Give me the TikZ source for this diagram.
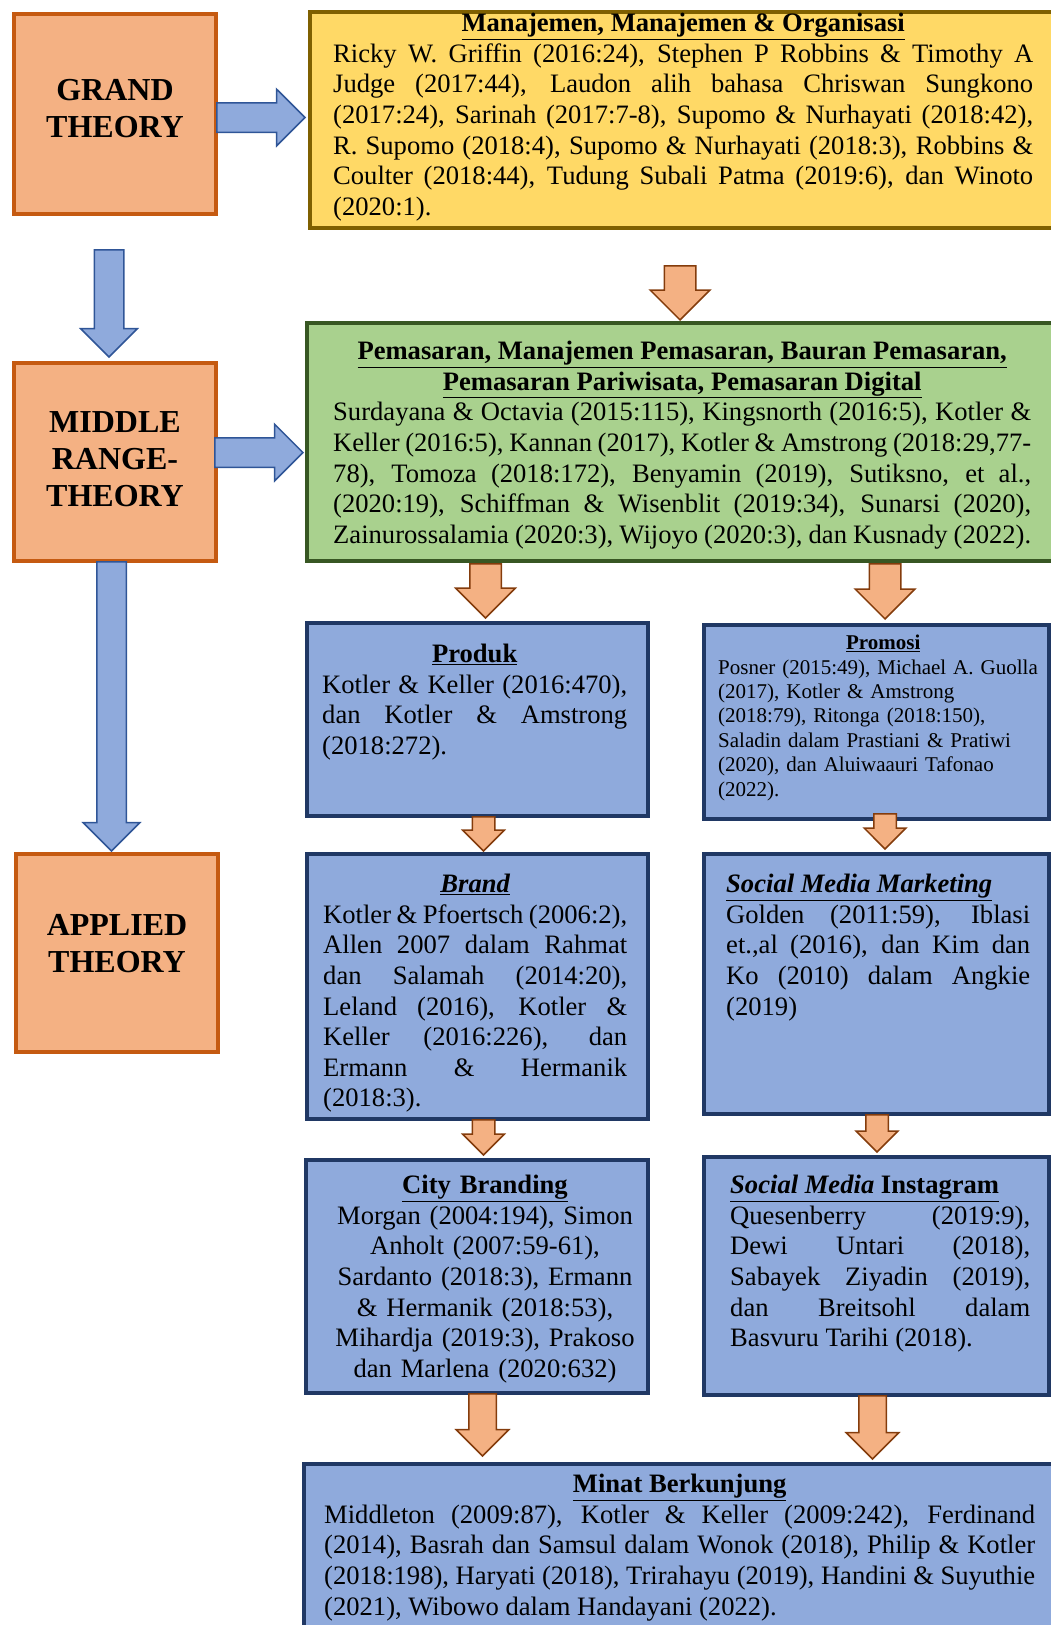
\documentclass[tikz,border=0pt]{standalone}
\usepackage{fontspec}
\setmainfont{Liberation Serif}
\usetikzlibrary{shapes.arrows}
\definecolor{orangefill}{HTML}{F4B183}
\definecolor{orangeline}{HTML}{C55A11}
\definecolor{orangearrow}{HTML}{843C0C}
\definecolor{yellowfill}{HTML}{FFD966}
\definecolor{yellowline}{HTML}{7F6000}
\definecolor{greenfill}{HTML}{A9D18E}
\definecolor{greenline}{HTML}{385723}
\definecolor{bluefill}{HTML}{8FAADC}
\definecolor{blueline}{HTML}{203864}
\definecolor{bluearrowline}{HTML}{2F5597}

\begin{document}
\begin{tikzpicture}[x=1pt,y=-1pt,
  box/.style={draw, rectangle, inner sep=0pt, line width=4pt},
  theory/.style={box, draw=orangeline, fill=orangefill},
  theorytext/.style={align=center, inner sep=0pt, font=\fontsize{32}{37}\selectfont\bfseries},
  refbox/.style={box, draw=blueline, fill=bluefill},
  reftext/.style={anchor=north west, inner sep=0pt, align=justify,
    font=\fontsize{26.6}{30.6}\selectfont, execute at begin node={\parindent=0pt}},
  blockarrow/.style={single arrow, anchor=tip, inner xsep=0pt, line width=1.5pt,
    single arrow head indent=0pt},
  bluearrow/.style={blockarrow, draw=bluearrowline, fill=bluefill,
    inner ysep=14pt, single arrow head extend=13.5pt},
  orangearrow/.style={blockarrow, draw=orangearrow, fill=orangefill},
  bigarrow/.style={orangearrow, inner ysep=15pt, single arrow head extend=14pt},
  smallarrow/.style={orangearrow, inner ysep=10.5pt, single arrow head extend=9.5pt}
  ]
  \useasboundingbox (0,0) rectangle (1051,1625);

  \node[theory, minimum width=202pt, minimum height=200pt] (grand) at (115,114) {};
  \node[theory, minimum width=202pt, minimum height=198pt] (middle) at (115,462) {};
  \node[theory, minimum width=202pt, minimum height=198pt] (applied) at (117,953) {};
  \node[theorytext, yshift=5pt] (grandtext) at (grand) {GRAND\\THEORY};
  \node[theorytext, yshift=3pt] (middletext) at (middle) {MIDDLE\\RANGE-\\THEORY};
  \node[theorytext, yshift=9pt] (appliedtext) at (applied) {APPLIED\\THEORY};

  \node[box, draw=yellowline, fill=yellowfill, minimum width=758pt, minimum height=216pt] (yellow) at (689,120) {};
  \node[box, draw=greenline, fill=greenfill, minimum width=761pt, minimum height=238pt] (green) at (687.5,442) {};
  \node[refbox, minimum width=341pt, minimum height=193pt] (produk) at (477.5,719.5) {};
  \node[refbox, minimum width=345pt, minimum height=194pt] (promosi) at (876.5,722) {};
  \node[refbox, minimum width=341pt, minimum height=265pt] (brand) at (477.5,986.5) {};
  \node[refbox, minimum width=345pt, minimum height=260pt] (smm) at (876.5,984) {};
  \node[refbox, minimum width=342pt, minimum height=233pt] (city) at (477,1276.5) {};
  \node[refbox, minimum width=345pt, minimum height=238pt] (smi) at (876.5,1276) {};
  \node[refbox, minimum width=764pt, minimum height=194pt] (minat) at (686,1561) {};

  \node[reftext, text width=700pt] (yellowtext) at (333,13) {%
    {\centering\textbf{\underline{Manajemen, Manajemen \& Organisasi}}\par}
    Ricky W. Griffin (2016:24), Stephen P Robbins \& Timothy A\linebreak
    Judge (2017:44), Laudon alih bahasa Chriswan Sungkono\linebreak
    (2017:24), Sarinah (2017:7-8), Supomo \& Nurhayati (2018:42),\linebreak
    R. Supomo (2018:4), Supomo \& Nurhayati (2018:3), Robbins \&\linebreak
    Coulter (2018:44), Tudung Subali Patma (2019:6), dan Winoto\linebreak
    (2020:1).};
  \node[reftext, text width=698pt] (greentext) at (333,341) {%
    {\centering\textbf{\underline{Pemasaran, Manajemen Pemasaran, Bauran Pemasaran,}}\\
    \textbf{\underline{Pemasaran Pariwisata, Pemasaran Digital}}\par}
    Surdayana \& Octavia (2015:115), Kingsnorth (2016:5), Kotler \&\linebreak
    Keller (2016:5), Kannan (2017), Kotler \& Amstrong (2018:29,77-\linebreak
    78), Tomoza (2018:172), Benyamin (2019), Sutiksno, et al.,\linebreak
    (2020:19), Schiffman \& Wisenblit (2019:34), Sunarsi (2020),\linebreak
    Zainurossalamia (2020:3), Wijoyo (2020:3), dan Kusnady (2022).};
  \node[reftext, text width=305pt] (produktext) at (322,644) {%
    {\centering\textbf{\underline{Produk}}\par}
    Kotler \& Keller (2016:470),\linebreak
    dan Kotler \& Amstrong\linebreak
    (2018:272).};
  \node[reftext, text width=330pt, align=left, font=\fontsize{21}{24.4}\selectfont] (promositext) at (718,635) {%
    {\centering\textbf{\underline{Promosi}}\par}
    Posner (2015:49), Michael A. Guolla\\
    (2017), Kotler \& Amstrong\\
    (2018:79), Ritonga (2018:150),\\
    Saladin dalam Prastiani \& Pratiwi\\
    (2020), dan Aluiwaauri Tafonao\\
    (2022).};
  \node[reftext, text width=304pt] (brandtext) at (323,874) {%
    {\centering\textbf{\textit{\underline{Brand}}}\par}
    Kotler \& Pfoertsch (2006:2),\linebreak
    Allen 2007 dalam Rahmat\linebreak
    dan Salamah (2014:20),\linebreak
    Leland (2016), Kotler \&\linebreak
    Keller (2016:226), dan\linebreak
    Ermann \& Hermanik\linebreak
    (2018:3).};
  \node[reftext, text width=304pt] (smmtext) at (726,874) {%
    \textbf{\textit{\underline{Social Media Marketing}}}\\
    Golden (2011:59), Iblasi\linebreak
    et.,al (2016), dan Kim dan\linebreak
    Ko (2010) dalam Angkie\linebreak
    (2019)};
  \node[reftext, anchor=north, text width=320pt, align=center] (citytext) at (485,1175) {%
    \textbf{\underline{City Branding}}\\
    Morgan (2004:194), Simon\\
    Anholt (2007:59-61),\\
    Sardanto (2018:3), Ermann\\
    \& Hermanik (2018:53),\\
    Mihardja (2019:3), Prakoso\\
    dan Marlena (2020:632)};
  \node[reftext, text width=300pt] (smitext) at (730,1175) {%
    \textbf{\underline{\textit{Social Media} Instagram}}\\
    Quesenberry (2019:9),\linebreak
    Dewi Untari (2018),\linebreak
    Sabayek Ziyadin (2019),\linebreak
    dan Breitsohl dalam\linebreak
    Basvuru Tarihi (2018).};
  \node[reftext, text width=711pt] (minattext) at (324,1474) {%
    {\centering\textbf{\underline{Minat Berkunjung}}\par}
    Middleton (2009:87), Kotler \& Keller (2009:242), Ferdinand\linebreak
    (2014), Basrah dan Samsul dalam Wonok (2018), Philip \& Kotler\linebreak
    (2018:198), Haryati (2018), Trirahayu (2019), Handini \& Suyuthie\linebreak
    (2021), Wibowo dalam Handayani (2022).};

  \node[bluearrow, minimum height=88pt] (grandtoyellow) at (306,117.5) {};
  \node[bluearrow, minimum height=107pt, rotate=-90] (grandtomiddle) at (109,358) {};
  \node[bluearrow, minimum height=88pt] (middletogreen) at (304,452.5) {};
  \node[bluearrow, minimum height=289pt, rotate=-90] (middletoapplied) at (111.5,852) {};

  \node[bigarrow, minimum height=54pt, rotate=-90] (yellowtogreen) at (680,321) {};
  \node[bigarrow, minimum height=54pt, rotate=-90] (greentoproduk) at (485.5,619) {};
  \node[bigarrow, minimum height=55pt, rotate=-90] (greentopromosi) at (885,620) {};
  \node[smallarrow, minimum height=34pt, rotate=-90] (produktobrand) at (483.5,852) {};
  \node[smallarrow, minimum height=35pt, rotate=-90] (promositosmm) at (885,850) {};
  \node[smallarrow, minimum height=35pt, rotate=-90] (brandtocity) at (483.5,1156) {};
  \node[smallarrow, minimum height=37pt, rotate=-90] (smmtosmi) at (877,1153) {};
  \node[orangearrow, inner ysep=13pt, single arrow head extend=12.5pt, minimum height=62pt, rotate=-90] (citytominat) at (482.5,1457) {};
  \node[orangearrow, inner ysep=13pt, single arrow head extend=12.5pt, minimum height=63pt, rotate=-90] (smitominat) at (872.5,1460) {};
\end{tikzpicture}
\end{document}
